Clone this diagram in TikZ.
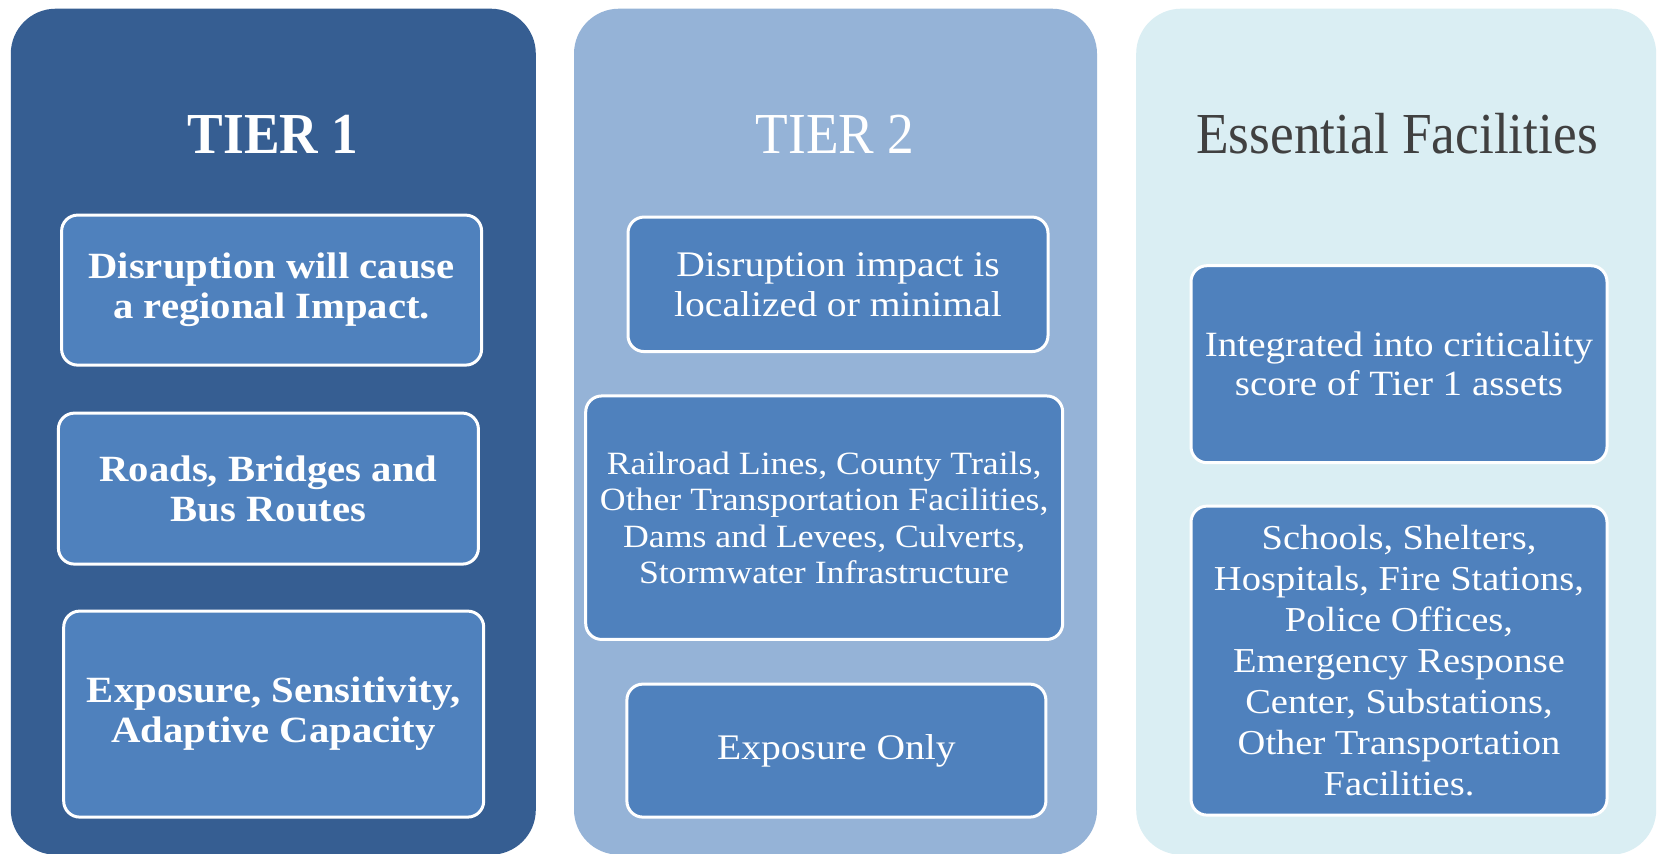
\documentclass[tikz,border=0pt]{standalone}
\usepackage{fontspec}
\setmainfont[FakeStretch=1.1]{Liberation Serif}
\newfontfamily\titlefont[FakeStretch=0.92]{Liberation Serif}
\definecolor{colA}{RGB}{54,94,146}
\definecolor{colB}{RGB}{149,179,215}
\definecolor{colC}{RGB}{218,238,243}
\definecolor{boxblue}{RGB}{79,129,189}
\definecolor{titlegray}{RGB}{64,64,64}
\newcommand\fBoldBody{\fontsize{37}{40}\selectfont\bfseries}
\newcommand\fTitle{\titlefont\fontsize{58}{60}\selectfont}
\begin{document}
\begin{tikzpicture}[x=1pt,y=-1pt,
  colbox/.style={rounded corners=45pt, inner sep=0pt, anchor=north west, minimum width=#1},
  colbox/.default=525pt,
  itembox/.style={draw=white, line width=3pt, fill=boxblue, rounded corners=16pt,
    text=white, align=center, inner sep=0pt},
  headtext/.style={anchor=base, inner sep=0pt}]
\useasboundingbox[fill=white] (0,0) rectangle (1660,854);
% columns
\node[colbox, fill=colA, minimum height=846pt] (c1) at (10.6,8.5) {};
\node[colbox=523pt, fill=colB, minimum height=846pt] (c2) at (573.8,8.5) {};
\node[colbox=520pt, fill=colC, minimum height=846pt] (c3) at (1136,8.5) {};
% titles
\node[headtext, text=white, font=\fTitle\bfseries] (h1) at (273,153) {TIER 1};
\node[headtext, text=white, font=\fTitle] (h2) at (835,153) {TIER 2};
\node[headtext, text=titlegray, font=\fTitle] (h3) at (1397,153) {Essential Facilities};
% tier 1
\node[itembox, minimum width=420pt, minimum height=150pt, font=\fBoldBody] (a1) at (271.6,290.1)
  {Disruption will cause\\a regional Impact.};
\node[itembox, minimum width=420pt, minimum height=151pt, font=\fBoldBody] (a2) at (268.4,488.6)
  {Roads, Bridges and\\Bus Routes};
\node[itembox, minimum width=420pt, minimum height=206pt, font=\fBoldBody] (a3) at (273.7,714.1)
  {Exposure, Sensitivity,\\Adaptive Capacity};
% tier 2
\node[itembox, minimum width=420pt, minimum height=134.5pt, font=\fontsize{36}{40}\selectfont] (b1) at (838,284.3)
  {Disruption impact is\\localized or minimal};
\node[itembox, minimum width=477pt, minimum height=243.5pt, font=\fontsize{32.5}{36.5}\selectfont] (b2) at (824.2,517.7)
  {Railroad Lines, County Trails,\\Other Transportation Facilities,\\Dams and Levees, Culverts,\\Stormwater Infrastructure};
\node[itembox, minimum width=419pt, minimum height=133pt, font=\fontsize{36}{40}\selectfont] (b3) at (836.4,750.6)
  {Exposure Only};
% essential facilities
\node[itembox, minimum width=416pt, minimum height=197pt, font=\fontsize{35.5}{39}\selectfont] (e1) at (1399,364.2)
  {Integrated into criticality\\score of Tier 1 assets};
\node[itembox, minimum width=416pt, minimum height=309pt, font=\fontsize{35}{41}\selectfont] (e2) at (1399,660.6)
  {Schools, Shelters,\\Hospitals, Fire Stations,\\Police Offices,\\Emergency Response\\Center, Substations,\\Other Transportation\\Facilities.};
\end{tikzpicture}
\end{document}
